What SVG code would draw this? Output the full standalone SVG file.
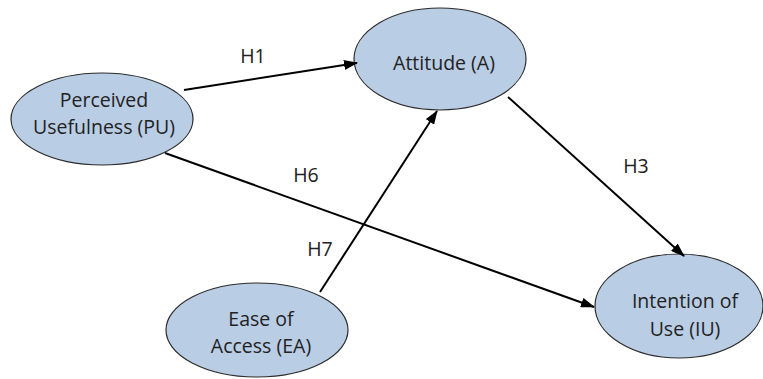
<svg xmlns="http://www.w3.org/2000/svg" width="763" height="379" viewBox="0 0 763 379">
<defs>
<style>
.node{fill:#b9cde5;stroke:#2b2b2b;stroke-width:1.2}
.t{font-family:"Open Sans","Liberation Sans",sans-serif;font-size:19.5px;fill:#222;text-anchor:middle}
.e{stroke:#000;stroke-width:2;fill:none;marker-end:url(#ah)}
</style>
<marker id="ah" markerWidth="14" markerHeight="10" refX="13" refY="5" orient="auto" markerUnits="userSpaceOnUse">
<path d="M0,0 L14,5 L0,10 Z" fill="#000"/>
</marker>
</defs>
<rect width="763" height="379" fill="#fff"/>
<g id="nodes">
<g id="PU"><ellipse class="node" cx="102" cy="119" rx="91" ry="46"/><text class="t" x="104" y="107">Perceived</text><text class="t" x="104" y="134">Usefulness (PU)</text></g>
<g id="A"><ellipse class="node" cx="440" cy="59" rx="86" ry="51"/><text class="t" x="444" y="70">Attitude (A)</text></g>
<g id="EA"><ellipse class="node" cx="257" cy="330" rx="91" ry="47"/><text class="t" x="261" y="326">Ease of</text><text class="t" x="261" y="353">Access (EA)</text></g>
<g id="IU"><ellipse class="node" cx="679" cy="306" rx="84" ry="52"/><text class="t" x="685" y="308">Intention of</text><text class="t" x="685" y="336">Use (IU)</text></g>
</g>
<g id="connectors">
<line class="e" x1="184" y1="90" x2="357" y2="63"/>
<line class="e" x1="165" y1="153" x2="594" y2="307"/>
<line class="e" x1="320" y1="292" x2="437" y2="111"/>
<line class="e" x1="508" y1="97" x2="684" y2="256"/>
<text class="t" x="253" y="63">H1</text>
<text class="t" x="306" y="182">H6</text>
<text class="t" x="320" y="256">H7</text>
<text class="t" x="636" y="173">H3</text>
</g>
</svg>
